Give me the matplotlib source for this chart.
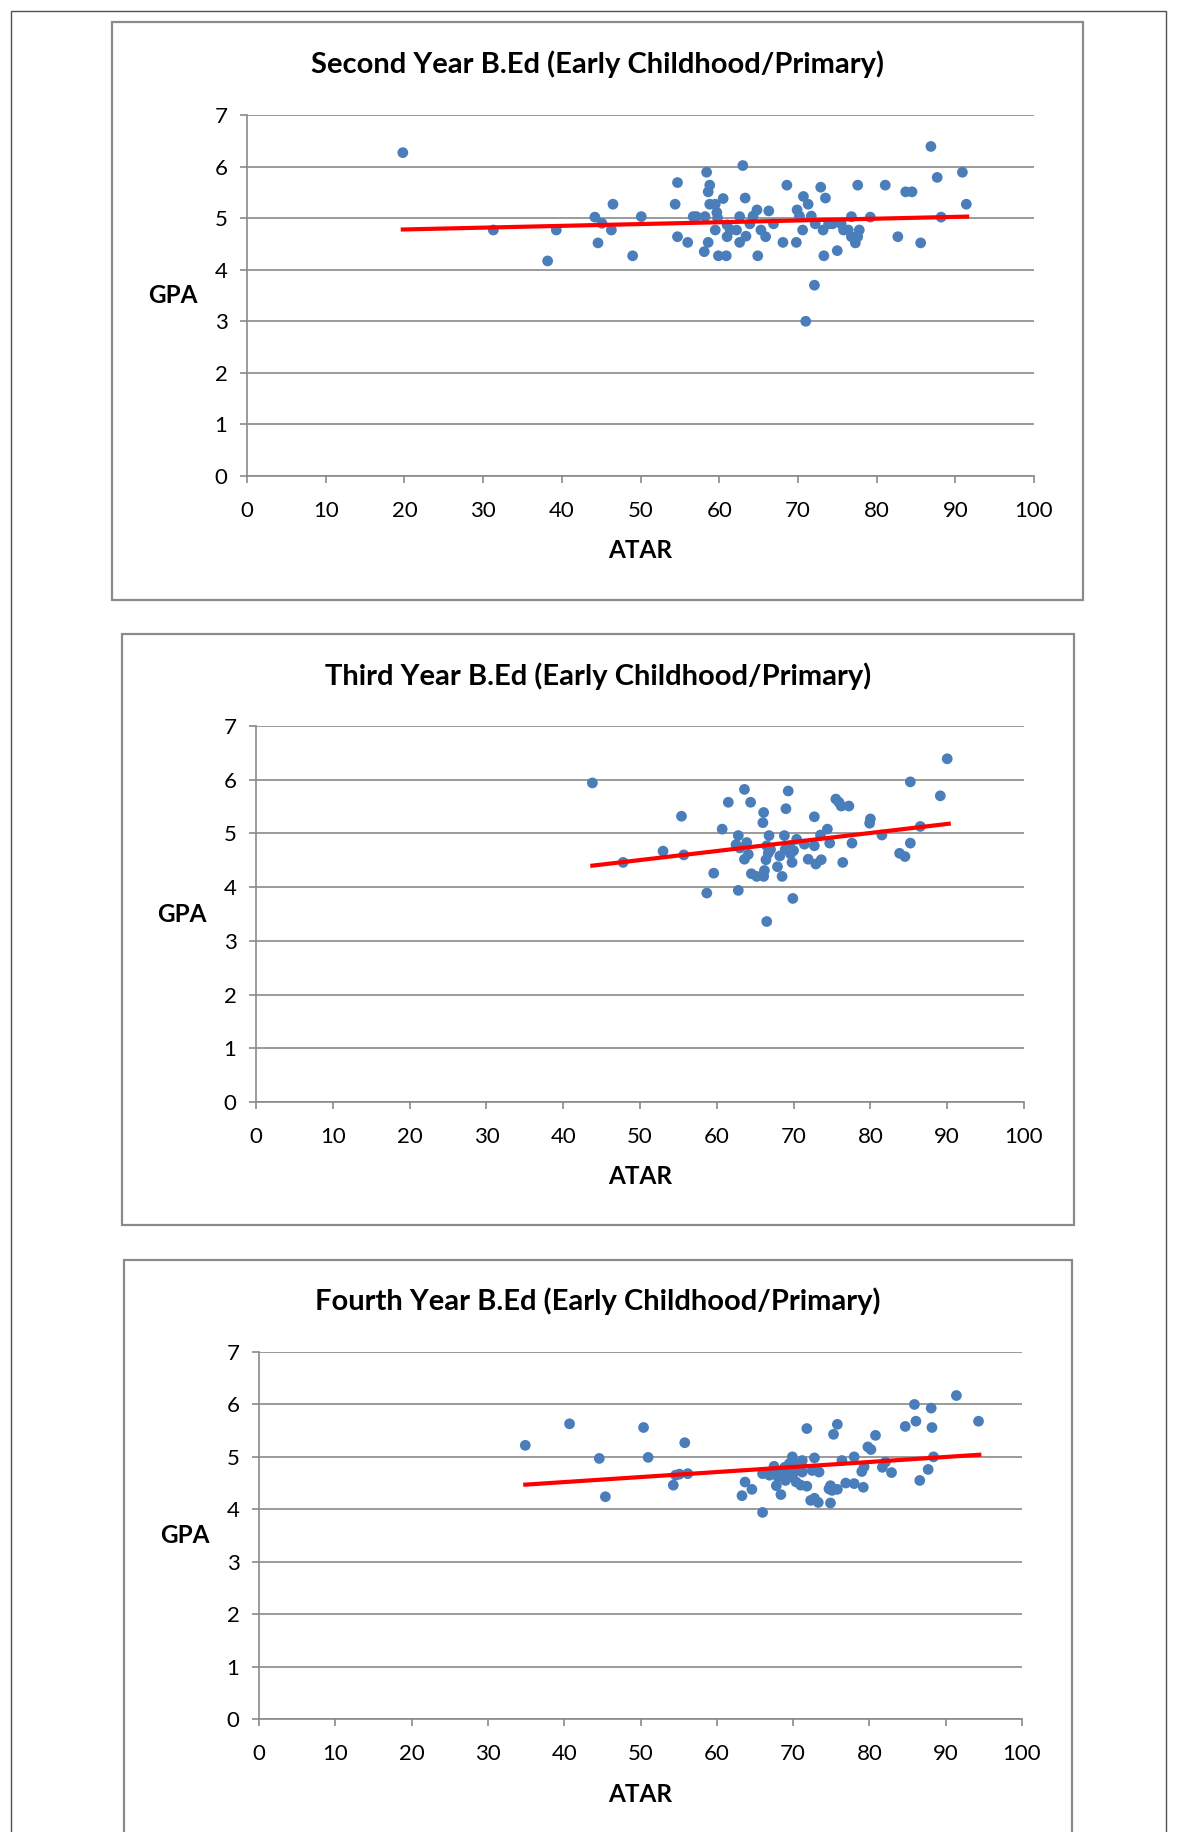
import matplotlib.pyplot as plt
from matplotlib.patches import Rectangle

plt.rcParams['font.family'] = ['Lato', 'DejaVu Sans']

# second year students
second_atar = [19.8, 31.3, 38.2, 39.3, 44.2, 44.6, 45.1, 46.3, 46.5, 49.0, 50.1,
               54.4, 54.7, 54.7, 56.0, 56.7, 57.1, 58.2, 58.4, 58.1, 58.6, 58.8,
               58.6, 58.8, 59.5, 59.7, 59.8, 59.5, 60.5, 59.9, 60.9, 61.0, 61.0,
               61.4, 62.2, 62.6, 62.6, 63.0, 63.3, 63.4, 63.9, 64.3, 64.8, 64.9,
               65.3, 65.9, 66.3, 66.9, 68.1, 68.6, 69.8, 69.9, 70.2, 70.6, 70.7,
               71.3, 71.0, 71.7, 72.1, 72.2, 72.9, 73.2, 73.3, 73.5, 73.9, 74.4,
               75.0, 75.5, 75.8, 76.4, 76.8, 76.8, 77.3, 77.6, 77.6, 77.8, 79.2,
               81.1, 82.7, 83.7, 84.5, 85.6, 86.9, 87.7, 88.2, 90.9, 91.4]
second_gpa = [6.27, 4.77, 4.17, 4.77, 5.02, 4.52, 4.90, 4.77, 5.27, 4.27, 5.03,
              5.27, 5.69, 4.64, 4.53, 5.03, 5.03, 5.03, 5.89, 4.35, 4.53, 5.64,
              5.51, 5.27, 5.27, 5.11, 5.00, 4.77, 5.38, 4.27, 4.27, 4.87, 4.64,
              4.77, 4.77, 5.03, 4.53, 6.02, 5.39, 4.65, 4.89, 5.04, 5.16, 4.27,
              4.77, 4.64, 5.14, 4.89, 4.53, 5.64, 4.53, 5.16, 5.04, 4.77, 5.42,
              5.27, 3.00, 5.04, 3.70, 4.89, 5.60, 4.77, 4.27, 5.39, 4.89, 4.89,
              4.37, 4.89, 4.77, 4.77, 5.03, 4.64, 4.52, 4.64, 5.64, 4.77, 5.02,
              5.64, 4.64, 5.51, 5.51, 4.52, 6.39, 5.79, 5.02, 5.89, 5.27]
second_trend_x = [19.8, 91.5]
second_trend_y = [4.78, 5.03]

# third year students
third_atar = [43.8, 47.8, 53.0, 55.4, 55.7, 58.7, 59.6, 60.7, 61.5, 62.8, 62.8,
              62.5, 63.6, 63.9, 63.6, 64.1, 64.4, 64.5, 65.2, 66.1, 66.2, 66.1,
              66.0, 66.5, 66.8, 66.5, 66.4, 66.7, 67.9, 68.5, 68.2, 68.8, 69.0,
              69.3, 69.5, 69.8, 69.9, 70.0, 70.4, 71.4, 71.9, 72.7, 72.7, 72.9,
              73.5, 73.6, 74.4, 74.7, 75.5, 76.2, 77.2, 76.4, 77.6, 80.0, 79.9,
              81.5, 83.8, 84.5, 85.2, 85.2, 86.5, 89.1, 90.0, 68.9, 69.6, 67.0,
              63.0, 75.9]
third_gpa = [5.94, 4.46, 4.67, 5.32, 4.60, 3.89, 4.26, 5.08, 5.58, 3.94, 4.96,
             4.79, 5.82, 4.83, 4.52, 4.61, 5.58, 4.25, 4.20, 4.20, 4.31, 5.39,
             5.20, 3.36, 4.96, 4.77, 4.51, 4.63, 4.38, 4.20, 4.58, 4.96, 5.46,
             5.79, 4.77, 4.46, 3.79, 4.68, 4.89, 4.80, 4.52, 5.31, 4.77, 4.43,
             4.97, 4.51, 5.08, 4.82, 5.64, 5.51, 5.51, 4.46, 4.82, 5.27, 5.19,
             4.97, 4.63, 4.57, 4.82, 5.96, 5.13, 5.70, 6.39, 4.70, 4.62, 4.70,
             4.73, 5.58]
third_trend_x = [43.8, 90.2]
third_trend_y = [4.40, 5.18]

# fourth year students
fourth_atar = [34.9, 40.7, 44.6, 45.4, 50.4, 51.0, 54.3, 54.6, 55.1, 55.8, 56.2,
               63.3, 63.7, 64.6, 66.0, 66.0, 66.9, 67.5, 67.8, 68.4, 68.6, 69.3,
               69.5, 69.9, 69.7, 70.4, 71.0, 71.2, 71.8, 71.8, 71.2, 72.3, 72.8,
               73.3, 72.8, 73.4, 72.5, 74.7, 75.1, 74.9, 74.9, 75.3, 75.8, 75.8,
               76.4, 76.9, 78.0, 78.0, 79.2, 79.0, 79.3, 79.8, 80.2, 80.8, 81.7,
               82.1, 82.9, 84.7, 85.9, 86.1, 86.6, 87.7, 88.1, 88.2, 88.4, 91.4,
               94.3, 67.2, 68.0, 68.9, 69.0, 70.0, 70.8, 70.2, 68.3]
fourth_gpa = [5.22, 5.63, 4.97, 4.24, 5.56, 4.99, 4.46, 4.65, 4.67, 5.27, 4.68,
              4.26, 4.52, 4.38, 3.94, 4.68, 4.65, 4.82, 4.45, 4.28, 4.67, 4.61,
              4.87, 5.00, 4.74, 4.52, 4.46, 4.93, 5.54, 4.44, 4.71, 4.17, 4.21,
              4.13, 4.98, 4.71, 4.74, 4.39, 4.36, 4.12, 4.45, 5.43, 5.62, 4.38,
              4.93, 4.50, 4.49, 5.00, 4.42, 4.72, 4.81, 5.19, 5.14, 5.41, 4.80,
              4.90, 4.70, 5.58, 6.00, 5.68, 4.55, 4.76, 5.93, 5.56, 5.00, 6.17,
              5.68, 4.70, 4.62, 4.80, 4.55, 4.68, 4.78, 4.85, 4.72]
fourth_trend_x = [34.9, 94.4]
fourth_trend_y = [4.47, 5.04]

W, H = 1177, 1832
GREY = '#8a8a8a'

fig = plt.figure(figsize=(W / 100, H / 100), dpi=100)


def px_rect(x0, y0, x1, y1):
    return [x0 / W, 1 - y1 / H, (x1 - x0) / W, (y1 - y0) / H]


def frame(x0, y0, x1, y1, color, lw):
    l, b, w, h = px_rect(x0, y0, x1, y1)
    fig.patches.append(Rectangle((l, b), w, h, transform=fig.transFigure,
                                 fill=False, edgecolor=color, linewidth=lw))


def draw_panel(box, area, title, title_y, atar, gpa, trend_x, trend_y):
    frame(*box, GREY, 1.6)
    x0, y0, x1, y1 = area
    ax = fig.add_axes(px_rect(x0, y0, x1, y1))
    ax.set_xlim(0, 100)
    ax.set_ylim(0, 7)
    ax.set_xticks(range(0, 101, 10))
    ax.set_yticks(range(0, 8))
    ax.grid(axis='y', color=GREY, linewidth=1.2)
    ax.set_axisbelow(True)
    for side in ['top', 'right']:
        ax.spines[side].set_visible(False)
    for side in ['left', 'bottom']:
        ax.spines[side].set_color(GREY)
        ax.spines[side].set_linewidth(1.2)
    ax.tick_params(axis='both', direction='out', length=5, width=1.2,
                   color=GREY, labelsize=16)
    ax.tick_params(axis='x', pad=13)
    ax.tick_params(axis='y', pad=9)

    ax.scatter(atar, gpa, s=60, color='#4a7ebb', edgecolors='none', zorder=3)
    ax.plot(trend_x, trend_y, color='#ff0000', linewidth=3.0, zorder=4)

    bx0, by0, bx1, by1 = box
    fig.text((bx0 + bx1) / 2 / W, 1 - title_y / H, title,
             ha='center', va='center', fontsize=21, fontweight='bold')
    fig.text((x0 + x1) / 2 / W, 1 - (y1 + 75) / H, 'ATAR',
             ha='center', va='center', fontsize=17.5, fontweight='bold')
    fig.text((x0 - 74) / W, 1 - (y0 + y1) / 2 / H, 'GPA',
             ha='center', va='center', fontsize=17.5, fontweight='bold')


# page border around the three charts
frame(11, 11, 1166, 1900, '#505050', 1.0)

draw_panel((112, 22, 1083, 600), (247, 115, 1034, 476),
           'Second Year B.Ed (Early Childhood/Primary)', 64,
           second_atar, second_gpa, second_trend_x, second_trend_y)
draw_panel((122, 634, 1074, 1225), (256, 726, 1024, 1102),
           'Third Year B.Ed (Early Childhood/Primary)', 676,
           third_atar, third_gpa, third_trend_x, third_trend_y)
draw_panel((124, 1260, 1072, 1900), (259, 1352, 1022, 1719),
           'Fourth Year B.Ed (Early Childhood/Primary)', 1301,
           fourth_atar, fourth_gpa, fourth_trend_x, fourth_trend_y)

fig.savefig('out.png', dpi=100)
